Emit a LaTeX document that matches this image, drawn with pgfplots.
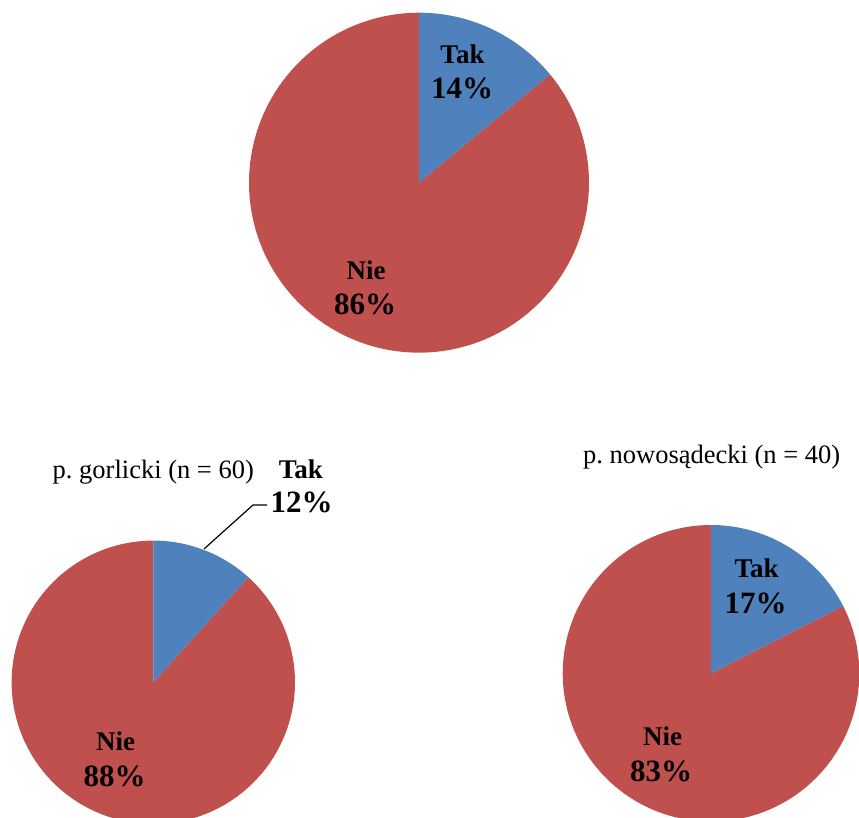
\documentclass[border=0pt]{standalone}
\usepackage{pgfplots}
\pgfplotsset{compat=1.18}
\usepgfplotslibrary{polar}
\usepackage{fontspec}
\setmainfont{Liberation Serif}
\definecolor{takblue}{RGB}{79,129,189}
\definecolor{niered}{RGB}{192,80,77}
% shares of "Tak" (percent) in each pie
\def\takTop{14}
\def\takGor{11.7}
\def\takNow{17.5}
\newcommand{\pie}[4]{% x, y, diameter, tak share
  \begin{polaraxis}[hide axis, scale only axis, clip=false,
      width=#3, height=#3, ymin=0, ymax=1,
      at={(#1,#2)}, anchor=origin]
    \addplot[fill=niered, draw=none, domain={-270}:{90-3.6*#4}, samples=150] {1} -- (axis cs:0,0) -- cycle;
    \addplot[fill=takblue, draw=none, domain={90-3.6*#4}:90, samples=40] {1} -- (axis cs:0,0) -- cycle;
  \end{polaraxis}}
\newcommand{\lbl}{\bfseries\fontsize{27}{32}\selectfont}
\newcommand{\pct}{\bfseries\fontsize{31}{37}\selectfont}
\newcommand{\ttl}{\fontsize{26.5}{31}\selectfont}
\frenchspacing
\begin{document}
\begin{tikzpicture}[x=1pt,y=1pt]
\useasboundingbox (0,0) rectangle (859,818);
\clip (0,0) rectangle (859,818);
\pie{419pt}{635.3pt}{340pt}{\takTop}
\pie{153.3pt}{135.7pt}{283.4pt}{\takGor}
\pie{711pt}{144.7pt}{296.6pt}{\takNow}
\tikzset{every node/.style={inner sep=0pt, anchor=base}}
% top
\node at (462.5,754.7) {\lbl Tak};
\node at (462,719) {\pct 14\%};
\node at (366,538.7) {\lbl Nie};
\node at (365,503.7) {\pct 86\%};
% left
\node at (153.3,339.7) {\ttl p. gorlicki (n = 60)};
\node at (300.8,339.7) {\lbl Tak};
\node at (301.7,305) {\pct 12\%};
\draw[line width=1.2pt] (204,269) -- (253,313) -- (267,313);
\node at (115.5,67) {\lbl Nie};
\node at (114.5,31.3) {\pct 88\%};
% right
\node at (711.7,354.7) {\ttl p. nowosądecki (n = 40)};
\node at (756.7,240.7) {\lbl Tak};
\node at (755.5,204.7) {\pct 17\%};
\node at (662.5,72) {\lbl Nie};
\node at (661,36.3) {\pct 83\%};
\end{tikzpicture}
\end{document}
